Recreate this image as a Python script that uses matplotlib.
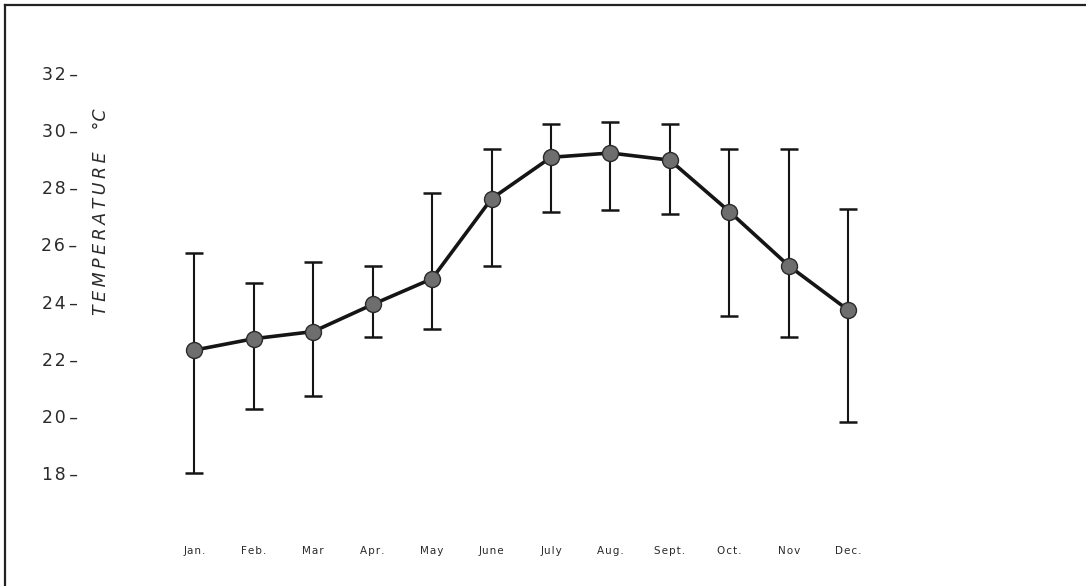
"""
Monthly mean temperature with range bars
"""
import numpy as np
import matplotlib.pyplot as plt
from matplotlib.lines import Line2D

months = ['Jan.', 'Feb.', 'Mar', 'Apr.', 'May', 'June', 'July',
          'Aug.', 'Sept.', 'Oct.', 'Nov', 'Dec.']
mean_temp = [22.3, 22.7, 22.95, 23.9, 24.8, 27.6, 29.05, 29.2, 28.95, 27.15, 25.25, 23.7]
max_temp = [25.7, 24.65, 25.4, 25.25, 27.8, 29.35, 30.2, 30.3, 30.2, 29.35, 29.35, 27.25]
min_temp = [18.0, 20.25, 20.7, 22.75, 23.05, 25.25, 27.15, 27.2, 27.05, 23.5, 22.75, 19.8]
y_ticks = [18, 20, 22, 24, 26, 28, 30, 32]

W, H = 1086, 586
fig = plt.figure(figsize=(W / 100, H / 100), dpi=100)
fig.patch.set_facecolor('white')

# plotting area, given in pixels
left, right, top, bottom = 140, 900, 40, 520
ax = fig.add_axes([left / W, 1 - bottom / H, (right - left) / W, (bottom - top) / H])

x = np.arange(len(months))
mean = np.array(mean_temp)
lower = mean - np.array(min_temp)
upper = np.array(max_temp) - mean

ax.errorbar(x, mean, yerr=[lower, upper], fmt='none', ecolor='#151515',
            elinewidth=1.5, capsize=6.5, capthick=1.8, zorder=2)
ax.plot(x, mean, color='#151515', linewidth=2.6, zorder=3)
ax.plot(x, mean, linestyle='none', marker='o', markersize=11.5,
        markerfacecolor='#6e6e6e', markeredgecolor='#2a2a2a',
        markeredgewidth=1.0, zorder=4)

ax.set_xlim(-0.913, 11.87)
ax.set_ylim(16.355, 33.155)

# hand-lettered look: open up the letter spacing
spaced = ['\u200a'.join(m) for m in months]
ax.set_xticks(x)
ax.set_xticklabels(spaced, fontsize=7.5, color='#2a2a2a')
ax.set_yticks(y_ticks)
ax.set_yticklabels(['\u200a'.join(str(t)) + '\u2009\u2013' for t in y_ticks],
                   fontsize=12.5, color='#2a2a2a')
ax.tick_params(axis='x', length=0, pad=19)
ax.tick_params(axis='y', length=0, pad=45)

for side in ['top', 'right', 'bottom', 'left']:
    ax.spines[side].set_visible(False)

ylabel = '\u2009'.join('TEMPERATURE') + '    \u00b0C'
fig.text(101 / W, 1 - 212 / H, ylabel, rotation=90,
         ha='center', va='center', fontsize=12.5, style='italic', color='#2a2a2a')

# frame lines on the top and left edges
fig.add_artist(Line2D([5 / W, 5 / W], [0, 1 - 5 / H], color='#222222', linewidth=1.6))
fig.add_artist(Line2D([5 / W, 1], [1 - 5 / H, 1 - 5 / H], color='#222222', linewidth=1.6))

plt.savefig('out.png', dpi=100)
plt.close()
